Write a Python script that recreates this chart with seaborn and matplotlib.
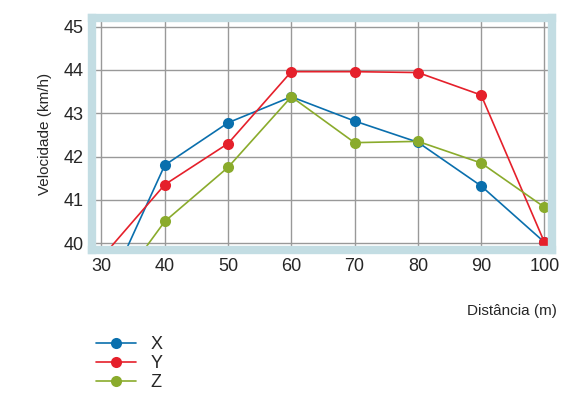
import numpy as np
import pandas as pd
import matplotlib
matplotlib.use("Agg")
from matplotlib import pyplot as plt
import seaborn as sns

distancia = [30, 40, 50, 60, 70, 80, 90, 100]
vel_x = [38.6, 41.8, 42.78, 43.38, 42.82, 42.33, 41.32, 40.02]
vel_y = [39.66, 41.35, 42.3, 43.96, 43.96, 43.94, 43.42, 40.02]
vel_z = [38.5, 40.5, 41.75, 43.38, 42.32, 42.35, 41.85, 40.83]

df = pd.DataFrame({"Distância": distancia, "X": vel_x, "Y": vel_y, "Z": vel_z})
long = df.melt("Distância", var_name="serie", value_name="Velocidade")

sns.set_style("white")
plt.rcParams['font.family'] = ['Liberation Sans', 'DejaVu Sans']

fig = plt.figure(figsize=(5.85, 4.0), dpi=100)
ax = fig.add_axes([92/585, 1-250/400, 460/585, 232/400])

cores = {"X": "#0a6fad", "Y": "#e5202b", "Z": "#8aab2c"}
for nome, grp in long.groupby("serie"):
    sns.lineplot(data=grp, x="Distância", y="Velocidade", color=cores[nome], lw=1.2,
                 marker="o", markersize=8, markeredgewidth=0,
                 markevery=list(range(1, len(grp))),
                 ax=ax, label=nome, legend=False, clip_on=True)

ax.set_xlim(28.5, 101.2)
ax.set_ylim(39.84, 45.2)
ax.set_xticks(distancia)
ax.set_yticks([40, 41, 42, 43, 44, 45])
ax.grid(True, color="#999999", lw=1)
ax.tick_params(labelsize=13, length=0, pad=6)
for s in ax.spines.values():
    s.set_color("#c3dde3")
    s.set_linewidth(6)
ax.set_ylabel("Velocidade (km/h)", fontsize=11, labelpad=8)
ax.set_xlabel("")
fig.text(557/585, 1-311/400, "Distância (m)", ha="right", va="center", fontsize=11)

h, l = ax.get_legend_handles_labels()
fig.legend(h, l, loc="upper left", bbox_to_anchor=(80/585, 1-320/400), frameon=False,
           fontsize=13, handlelength=2.2, labelspacing=0.1)

fig.savefig("out.png", dpi=100)
